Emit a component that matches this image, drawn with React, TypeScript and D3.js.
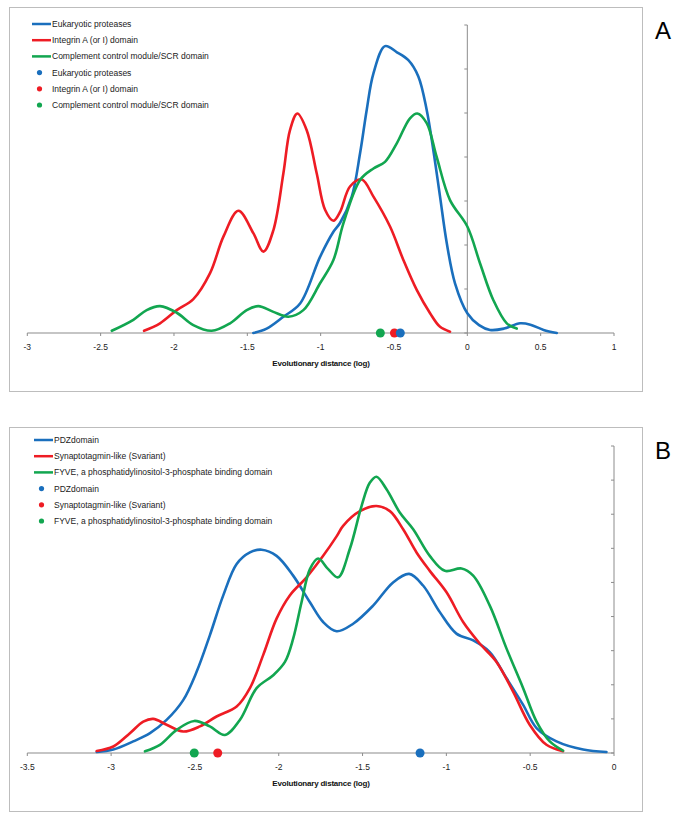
import React from "react";
import * as d3 from "d3";

// ---------- Panel A data ----------
const aLegendNames = [
  "Eukaryotic proteases",
  "Integrin A (or I) domain",
  "Complement control module/SCR domain",
];
const aBlueX = [-1.459, -1.368, -1.254, -1.14, -1.004, -0.913, -0.868, -0.788, -0.731, -0.686, -0.64, -0.561, -0.48, -0.402, -0.334, -0.277, -0.232, -0.186, -0.14, -0.084, 0, 0.08, 0.155, 0.25, 0.36, 0.43, 0.52, 0.61];
const aBlueY = [0, 0.1, 0.37, 0.67, 1.73, 2.3, 2.5, 3.1, 4.09, 5.07, 5.9, 6.52, 6.38, 6.2, 5.83, 5.07, 4.16, 3.1, 2.04, 1.13, 0.45, 0.18, 0.07, 0.1, 0.22, 0.19, 0.07, 0.0];
const aRedX = [-2.204, -2.095, -1.981, -1.868, -1.754, -1.663, -1.561, -1.459, -1.39, -1.322, -1.254, -1.209, -1.159, -1.095, -1.027, -0.97, -0.913, -0.868, -0.8, -0.72, -0.64, -0.527, -0.436, -0.345, -0.254, -0.186, -0.118];
const aRedY = [0.05, 0.22, 0.52, 0.77, 1.36, 2.19, 2.78, 2.27, 1.85, 2.34, 3.63, 4.61, 4.99, 4.61, 3.63, 2.8, 2.55, 2.75, 3.33, 3.49, 3.1, 2.42, 1.66, 0.98, 0.45, 0.14, 0.03];
const aGreenX = [-2.424, -2.277, -2.186, -2.095, -1.981, -1.868, -1.743, -1.618, -1.504, -1.425, -1.322, -1.22, -1.118, -1.004, -0.913, -0.845, -0.731, -0.64, -0.561, -0.481, -0.391, -0.341, -0.277, -0.209, -0.118, 0, 0.087, 0.177, 0.269, 0.337];
const aGreenY = [0.05, 0.3, 0.52, 0.61, 0.46, 0.18, 0.05, 0.22, 0.52, 0.61, 0.48, 0.37, 0.52, 1.13, 1.66, 2.49, 3.48, 3.74, 3.89, 4.31, 4.88, 4.99, 4.77, 4.0, 3.02, 2.42, 1.58, 0.75, 0.22, 0.1];
const aDots = [-0.457, -0.497, -0.593]; // blue, red, green
const aXTicks = [-3, -2.5, -2, -1.5, -1, -0.5, 0, 0.5, 1];

// ---------- Panel B data ----------
const bLegendNames = [
  "PDZdomain",
  "Synaptotagmin-like (Svariant)",
  "FYVE, a phosphatidylinositol-3-phosphate  binding domain",
];
const bBlueX = [-3.086, -2.987, -2.868, -2.768, -2.669, -2.57, -2.49, -2.411, -2.331, -2.251, -2.172, -2.102, -2.013, -1.914, -1.814, -1.735, -1.655, -1.556, -1.437, -1.318, -1.222, -1.139, -1.039, -0.94, -0.84, -0.741, -0.641, -0.542, -0.462, -0.343, -0.184, -0.045];
const bBlueY = [0.03, 0.1, 0.34, 0.58, 0.97, 1.55, 2.38, 3.45, 4.62, 5.54, 5.88, 5.96, 5.78, 5.2, 4.42, 3.84, 3.57, 3.79, 4.32, 5.0, 5.25, 4.91, 4.13, 3.5, 3.3, 2.96, 2.19, 1.41, 0.73, 0.34, 0.1, 0.03];
const bRedX = [-3.086, -2.987, -2.888, -2.808, -2.749, -2.669, -2.57, -2.47, -2.371, -2.251, -2.172, -2.093, -2.013, -1.934, -1.834, -1.735, -1.655, -1.616, -1.516, -1.417, -1.337, -1.258, -1.178, -1.099, -0.999, -0.9, -0.801, -0.701, -0.602, -0.503, -0.403, -0.304];
const bRedY = [0.06, 0.19, 0.58, 0.92, 1.0, 0.83, 0.63, 0.78, 1.07, 1.36, 1.9, 2.87, 3.94, 4.62, 5.15, 5.78, 6.35, 6.66, 7.09, 7.24, 7.09, 6.56, 5.88, 5.34, 4.71, 3.84, 3.21, 2.67, 1.8, 0.83, 0.24, 0.05];
const bGreenX = [-2.798, -2.709, -2.609, -2.504, -2.411, -2.321, -2.232, -2.132, -2.033, -1.963, -1.914, -1.864, -1.814, -1.765, -1.705, -1.646, -1.576, -1.506, -1.457, -1.417, -1.357, -1.278, -1.198, -1.099, -1.009, -0.91, -0.84, -0.741, -0.641, -0.542, -0.462, -0.383, -0.304];
const bGreenY = [0.05, 0.24, 0.68, 0.94, 0.78, 0.53, 0.97, 1.9, 2.28, 2.67, 3.35, 4.42, 5.39, 5.7, 5.39, 5.15, 5.98, 7.24, 7.92, 8.1, 7.73, 7.05, 6.56, 5.78, 5.34, 5.41, 5.2, 4.32, 3.06, 1.9, 0.92, 0.34, 0.07];
const bDots = [-1.157, -2.364, -2.504]; // blue, red, green
const bXTicks = [-3.5, -3, -2.5, -2, -1.5, -1, -0.5, 0];

const COLORS = ["#1a6fbd", "#ee1c24", "#12a650"];
const FONT = "'Liberation Sans', Arial, sans-serif";

type PanelProps = {
  top: number;
  letter: string;
  names: string[];
  series: [number[], number[]][];
  dots: number[];
  xTicks: number[];
  xDomain: [number, number];
  yMax: number;
  yTop: number;
  yAxisAt: number;
  legendX: number;
  legendY: number;
};

function Panel(p: PanelProps) {
  const x = d3.scaleLinear().domain(p.xDomain).range([27.3, 614]);
  const axisY = p.top + 326;
  const y = d3.scaleLinear().domain([0, p.yMax]).range([axisY, p.top + p.yTop]);
  const line = d3
    .line<[number, number]>()
    .x((d) => x(d[0]))
    .y((d) => y(d[1]))
    .curve(d3.curveCatmullRom.alpha(0.5));
  const yTicks = d3.range(0, p.yMax + 1);
  const ax = x(p.yAxisAt);
  return (
    <g>
      <rect x={9.5} y={p.top + 0.5} width={633} height={384} fill="#fff" stroke="#bdbdbd" strokeWidth={1} />
      {/* legend */}
      {p.names.map((n, i) => (
        <g key={"l" + i}>
          <line x1={p.legendX} x2={p.legendX + 19} y1={p.top + p.legendY + i * 16.2} y2={p.top + p.legendY + i * 16.2} stroke={COLORS[i]} strokeWidth={2.5} />
          <text x={p.legendX + 20} y={p.top + p.legendY + i * 16.2 + 3} fontSize={8.5} fontFamily={FONT} fill="#222">{n}</text>
        </g>
      ))}
      {p.names.map((n, i) => (
        <g key={"d" + i}>
          <circle cx={p.legendX + 7.5} cy={p.top + p.legendY + (i + 3) * 16.2} r={2.6} fill={COLORS[i]} />
          <text x={p.legendX + 20} y={p.top + p.legendY + (i + 3) * 16.2 + 3} fontSize={8.5} fontFamily={FONT} fill="#222">{n}</text>
        </g>
      ))}
      {/* y axis */}
      <line x1={ax} x2={ax} y1={y(0)} y2={y(p.yMax)} stroke="#8c8c8c" strokeWidth={1} />
      {yTicks.map((t) => (
        <line key={"yt" + t} x1={ax - 3} x2={ax} y1={y(t)} y2={y(t)} stroke="#8c8c8c" strokeWidth={1} />
      ))}
      {/* x axis */}
      <line x1={x(p.xDomain[0])} x2={x(p.xDomain[1])} y1={axisY} y2={axisY} stroke="#8c8c8c" strokeWidth={1.2} />
      {p.xTicks.map((t) => (
        <g key={"xt" + t}>
          <line x1={x(t)} x2={x(t)} y1={axisY} y2={axisY + 3} stroke="#8c8c8c" strokeWidth={1} />
          <text x={x(t)} y={axisY + 17} fontSize={8.5} fontFamily={FONT} textAnchor="middle" fill="#222">{String(t).replace("-", "-")}</text>
        </g>
      ))}
      <text x={321} y={axisY + 33} fontSize={8} fontFamily={FONT} textAnchor="middle" fill="#111" fontWeight={600} letterSpacing={-0.2}>Evolutionary distance (log)</text>
      {/* curves */}
      {p.series.map((s, i) => (
        <path key={"c" + i} d={line(s[0].map((v, k) => [v, s[1][k]] as [number, number])) || ""} fill="none" stroke={COLORS[i]} strokeWidth={2.6} strokeLinejoin="round" strokeLinecap="round" />
      ))}
      {/* dots on axis: draw green, red, blue order */}
      {[2, 1, 0].map((i) => (
        <circle key={"pt" + i} cx={x(p.dots[i])} cy={axisY} r={4.5} fill={COLORS[i]} />
      ))}
      <text x={655} y={p.top + 32} fontSize={24} fontFamily={FONT} fill="#000">{p.letter}</text>
    </g>
  );
}

export default function App() {
  return (
    <div style={{ position: "absolute", left: 0, top: 0 }}>
      <svg width={685} height={822} style={{ display: "block", background: "#fff" }}>
        <rect width={685} height={822} fill="#fff" />
        <Panel
          top={7}
          letter="A"
          names={aLegendNames}
          series={[[aBlueX, aBlueY], [aRedX, aRedY], [aGreenX, aGreenY]]}
          dots={aDots}
          xTicks={aXTicks}
          xDomain={[-3, 1]}
          yMax={7}
          yTop={18}
          yAxisAt={0}
          legendX={32}
          legendY={17}
        />
        <Panel
          top={427}
          letter="B"
          names={bLegendNames}
          series={[[bBlueX, bBlueY], [bRedX, bRedY], [bGreenX, bGreenY]]}
          dots={bDots}
          xTicks={bXTicks}
          xDomain={[-3.5, 0]}
          yMax={9}
          yTop={19}
          yAxisAt={0}
          legendX={34}
          legendY={13}
        />
      </svg>
    </div>
  );
}
